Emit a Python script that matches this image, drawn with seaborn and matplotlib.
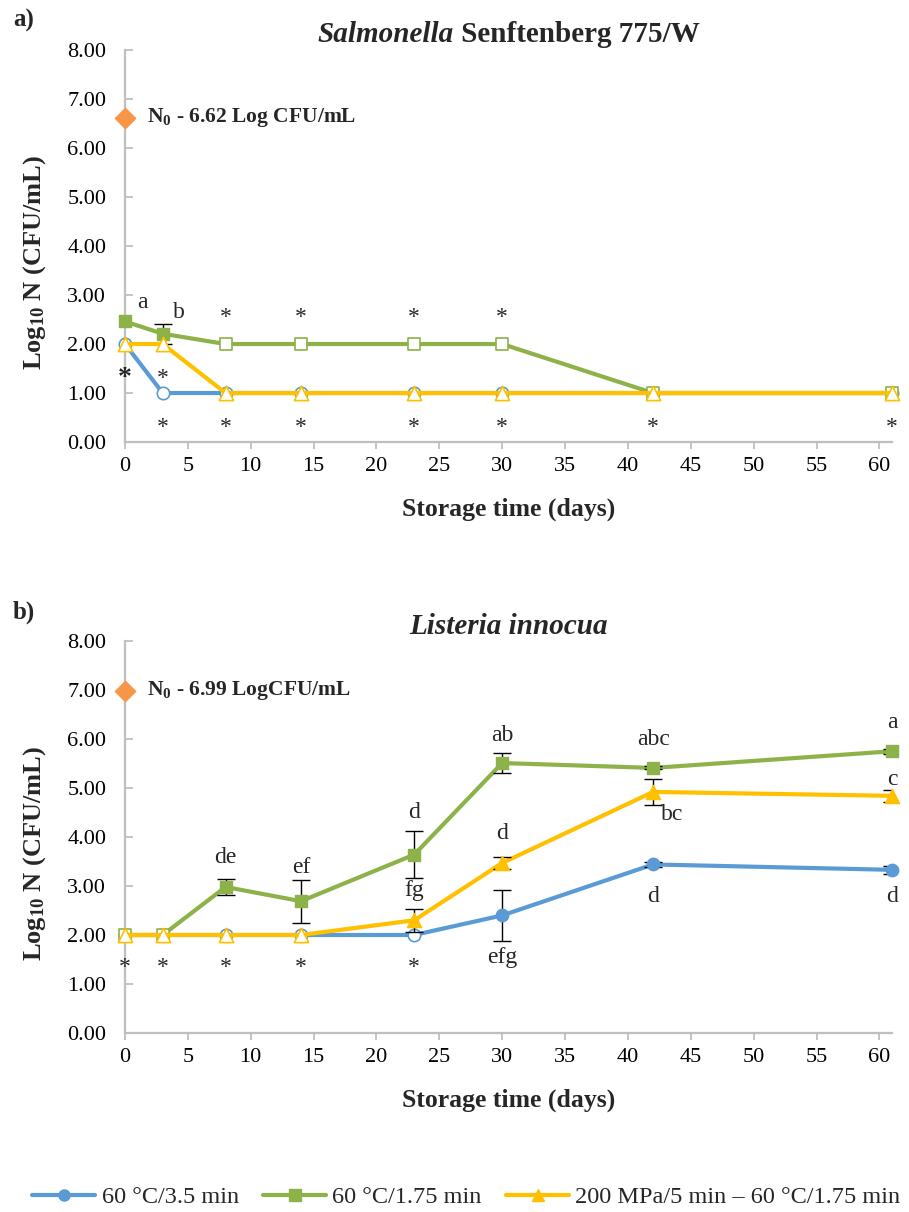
import matplotlib
matplotlib.use("Agg")
import matplotlib.pyplot as plt
from matplotlib.lines import Line2D
import seaborn as sns
import numpy as np

# ---------------- data ----------------
days = [0, 3, 8, 14, 23, 30, 42, 61]
series_names = ["60 °C/3.5 min", "60 °C/1.75 min", "200 MPa/5 min – 60 °C/1.75 min"]

# panel a: Salmonella Senftenberg 775/W
a_blue = [2.00, 1.00, 1.00, 1.00, 1.00, 1.00, 1.00, 1.00]
a_blue_open = [True, True, True, True, True, True, True, True]
a_blue_err = [0, 0, 0, 0, 0, 0, 0, 0]
a_green = [2.46, 2.21, 2.00, 2.00, 2.00, 2.00, 1.00, 1.00]
a_green_open = [False, False, True, True, True, True, True, True]
a_green_err = [0, 0.20, 0, 0, 0, 0, 0, 0]
a_yellow = [2.00, 2.00, 1.00, 1.00, 1.00, 1.00, 1.00, 1.00]
a_yellow_open = [True, True, True, True, True, True, True, True]
a_yellow_err = [0, 0, 0, 0, 0, 0, 0, 0]
a_n0 = 6.62

# panel b: Listeria innocua
b_blue = [2.00, 2.00, 2.00, 2.00, 2.00, 2.40, 3.44, 3.33]
b_blue_open = [True, True, True, True, True, False, False, False]
b_blue_err = [0, 0, 0, 0, 0, 0.52, 0.05, 0.08]
b_green = [2.00, 2.00, 2.98, 2.69, 3.64, 5.51, 5.41, 5.75]
b_green_open = [True, True, False, False, False, False, False, False]
b_green_err = [0, 0, 0.17, 0.44, 0.48, 0.20, 0.03, 0.05]
b_yellow = [2.00, 2.00, 2.00, 2.00, 2.30, 3.47, 4.92, 4.84]
b_yellow_open = [True, True, True, True, False, False, False, False]
b_yellow_err = [0, 0, 0, 0, 0.24, 0.13, 0.26, 0.12]
b_n0 = 6.99

# annotations (day, y, text)
a_letters = [(1.4, 2.84, "a"), (4.3, 2.65, "b")]
a_stars = [(0, 1.41), (3, 1.41),
           (8, 2.67), (14, 2.67), (23, 2.67), (30, 2.67),
           (3, 0.41), (8, 0.41), (14, 0.41), (23, 0.41), (30, 0.41), (42, 0.41), (61, 0.41)]
b_letters = [(8, 3.59, "de"), (14, 3.37, "ef"), (23, 4.49, "d"), (23, 2.90, "fg"),
             (30, 6.08, "ab"), (30, 4.08, "d"), (30, 1.55, "efg"),
             (42, 6.00, "abc"), (43.5, 4.45, "bc"), (42, 2.78, "d"),
             (61, 6.33, "a"), (61, 5.18, "c"), (61, 2.78, "d")]
b_stars = [(0, 1.45), (3, 1.45), (8, 1.45), (14, 1.45), (23, 1.45)]

y_ticks = [0, 1, 2, 3, 4, 5, 6, 7, 8]
x_ticks = [0, 5, 10, 15, 20, 25, 30, 35, 40, 45, 50, 55, 60]

# ---------------- style ----------------
sns.set_theme(style="white")
plt.rcParams["font.family"] = ["Liberation Serif", "DejaVu Serif"]
plt.rcParams["mathtext.fontset"] = "custom"
plt.rcParams["mathtext.rm"] = "Liberation Serif"
plt.rcParams["mathtext.bf"] = "Liberation Serif:bold"
plt.rcParams["mathtext.it"] = "Liberation Serif:italic"

BLUE = "#5B9BD5"
GREEN = "#8DB24A"
YELLOW = "#FFC000"
ORANGE = "#F79646"
GRAY = "#BFBFBF"
colors = [BLUE, GREEN, YELLOW]
markers = ["o", "s", "^"]
msizes = [80, 80, 105]

TICK_FS = 16
LAB_FS = 18.5
TXT_FS = 17

fig = plt.figure(figsize=(9.09, 12.12), dpi=100)
ax_a = fig.add_axes([0.1375, 0.6353, 0.8438, 0.3234])
ax_b = fig.add_axes([0.1375, 0.1477, 0.8438, 0.3234])


def draw_panel(ax, vals, opens, errs, n0, n0_label, letters, stars, star_big):
    for i, (v, op, er) in enumerate(zip(vals, opens, errs)):
        z = 3 + i * 3
        col = colors[i]
        sns.lineplot(x=days, y=v, ax=ax, color=col, linewidth=3.0, zorder=z,
                     estimator=None, sort=False, clip_on=False)
        err_idx = [k for k, e in enumerate(er) if e > 0]
        if err_idx:
            ax.errorbar([days[k] for k in err_idx], [v[k] for k in err_idx],
                        yerr=[er[k] for k in err_idx], fmt="none", ecolor="black",
                        elinewidth=1.0, capsize=6.5, capthick=1.0, zorder=z + 1)
        fx = [days[k] for k in range(len(days)) if not op[k]]
        fy = [v[k] for k in range(len(days)) if not op[k]]
        ox = [days[k] for k in range(len(days)) if op[k]]
        oy = [v[k] for k in range(len(days)) if op[k]]
        if fx:
            sns.scatterplot(x=fx, y=fy, ax=ax, marker=markers[i], s=msizes[i],
                            color=col, edgecolor=col, linewidth=1.0, zorder=z + 2,
                            clip_on=False)
        if ox:
            sns.scatterplot(x=ox, y=oy, ax=ax, marker=markers[i], s=msizes[i],
                            color="white", edgecolor=col, linewidth=1.2, zorder=z + 2,
                            clip_on=False)
    # N0 point
    sns.scatterplot(x=[0], y=[n0], ax=ax, marker="D", s=110, color=ORANGE,
                    edgecolor=ORANGE, zorder=20, clip_on=False)
    ax.text(1.75, n0, n0_label, fontsize=15.5, fontweight="bold",
            va="center", ha="left", zorder=21)
    for (x, y, t) in letters:
        ax.text(x, y, t, fontsize=TXT_FS, ha="center", va="center", zorder=25)
    for j, (x, y) in enumerate(stars):
        big = star_big and j == 0
        ax.text(x, y - 0.12, "*", fontsize=TXT_FS + (3 if big else 0),
                fontweight="bold" if big else "normal",
                ha="center", va="center", zorder=25)

    ax.set_xlim(0, 61)
    ax.set_ylim(0, 8)
    ax.set_xticks(x_ticks)
    ax.set_yticks(y_ticks)
    ax.set_yticklabels([f"{t:.2f}" for t in y_ticks], fontsize=TICK_FS)
    ax.set_xticklabels([str(t) for t in x_ticks], fontsize=TICK_FS)
    for s in ["top", "right"]:
        ax.spines[s].set_visible(False)
    for s in ["left", "bottom"]:
        ax.spines[s].set_color(GRAY)
        ax.spines[s].set_linewidth(1.6)
    ax.tick_params(axis="y", direction="in", length=6, width=1.3, color=GRAY, pad=13.5,
                   left=True, labelcolor="black")
    ax.tick_params(axis="x", direction="out", length=5, width=1.3, color=GRAY, pad=6,
                   bottom=True, labelcolor="black")
    ax.set_xlabel("Storage time (days)", fontsize=LAB_FS, fontweight="bold", labelpad=15)
    ax.set_ylabel(r"Log$_{\mathbf{10}}$ N (CFU/mL)", fontsize=LAB_FS + 0.5,
                  fontweight="bold")
    ax.yaxis.set_label_coords(-0.101, 0.459)
    ax.grid(False)


draw_panel(ax_a, [a_blue, a_green, a_yellow],
           [a_blue_open, a_green_open, a_yellow_open],
           [a_blue_err, a_green_err, a_yellow_err],
           a_n0, r"N$_{\mathbf{0}}$ - 6.62 Log CFU/mL", a_letters, a_stars, True)
draw_panel(ax_b, [b_blue, b_green, b_yellow],
           [b_blue_open, b_green_open, b_yellow_open],
           [b_blue_err, b_green_err, b_yellow_err],
           b_n0, r"N$_{\mathbf{0}}$ - 6.99 LogCFU/mL", b_letters, b_stars, False)

# titles
TITLE_FS = 21
renderer = fig.canvas.get_renderer()
cx = (125 + 892) / 2 / 909
t1 = fig.text(0, 0, "Salmonella", fontsize=TITLE_FS, fontweight="bold", style="italic")
t2 = fig.text(0, 0, " Senftenberg 775/W", fontsize=TITLE_FS, fontweight="bold")
w1 = t1.get_window_extent(renderer).width / 909
w2 = t2.get_window_extent(renderer).width / 909
x0 = cx - (w1 + w2) / 2
ty = 1 - 35 / 1212
t1.set_position((x0, ty)); t1.set_va("center")
t2.set_position((x0 + w1, ty)); t2.set_va("center")
fig.text(cx, 1 - 627 / 1212, "Listeria innocua", fontsize=TITLE_FS, fontweight="bold",
         style="italic", ha="center", va="center")

# panel letters
fig.text(13 / 909, 1 - 20 / 1212, "a)", fontsize=18, fontweight="bold", va="center")
fig.text(13 / 909, 1 - 612 / 1212, "b)", fontsize=18, fontweight="bold", va="center")

# legend
handles = [Line2D([0], [0], color=c, lw=3, marker=m, markersize=8,
                  markerfacecolor=c, markeredgecolor=c)
           for c, m in zip(colors, markers)]
fig.legend(handles, series_names, loc="center", ncol=3, frameon=False,
           bbox_to_anchor=(0.513, 1 - 1197 / 1212), fontsize=17.5,
           handlelength=2.6, handletextpad=0.25, columnspacing=1.0)

fig.savefig("out.png", dpi=100)
